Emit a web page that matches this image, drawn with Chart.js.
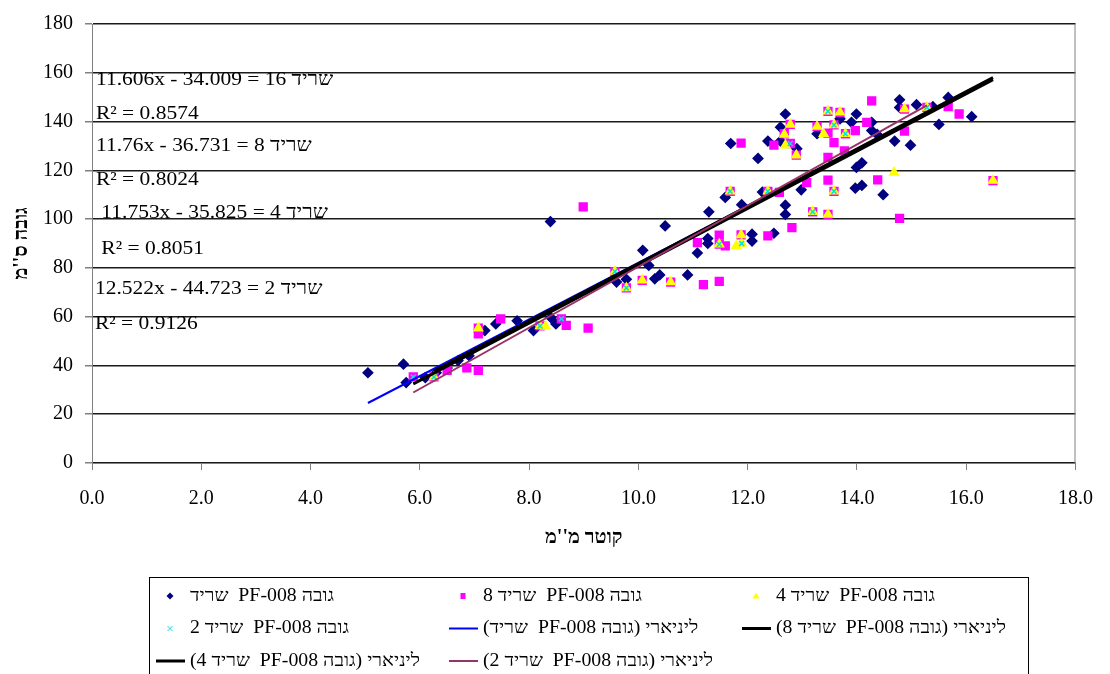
<!DOCTYPE html>
<html>
<head>
<meta charset="utf-8">
<script src="https://cdn.jsdelivr.net/npm/chart.js@4/dist/chart.umd.min.js"></script>
<style>
  html, body { margin: 0; padding: 0; background: #fff; overflow: hidden; }
  #wrap { width: 1110px; height: 674px; position: relative; }
</style>
</head>
<body>
<div id="wrap"><canvas id="myChart"></canvas></div>
<script>
// series labels (legend order)
const seriesLabels = [
    "גובה PF-008  שריד",
    "גובה PF-008  שריד 8",
    "גובה PF-008  שריד 4",
    "גובה PF-008  שריד 2"
];
const trendLabels = [
    "ליניארי (גובה PF-008  שריד)",
    "ליניארי (גובה PF-008  שריד 8)",
    "ליניארי (גובה PF-008  שריד 4)",
    "ליניארי (גובה PF-008  שריד 2)"
];

// שריד (16)
const sharid16X = [5.05, 5.70, 5.75, 6.10, 6.30, 6.50, 6.70, 6.90, 7.19, 7.39, 7.78, 8.08, 8.40, 8.49, 8.39,
    9.60, 9.78, 10.08, 10.19, 10.30, 10.39, 10.49, 10.90, 11.08, 11.27, 11.27, 11.29, 11.59, 11.69, 11.89,
    12.08, 12.08, 12.19, 12.27, 12.37, 12.48, 12.60, 12.60, 12.69, 12.69, 12.69, 12.90, 12.98, 13.27, 13.69,
    13.90, 13.97, 13.99, 13.99, 14.09, 14.09, 14.27, 14.27, 14.37, 14.48, 14.69, 14.78, 14.78, 14.98, 15.09,
    15.39, 15.50, 15.67, 16.10];
const sharid16Y = [37, 40.5, 33, 35, 37, 39, 42, 44, 54.3, 57, 58.3, 54.3, 59.6, 57, 99,
    74.2, 75.3, 87.2, 81, 75.5, 77.1, 97.2, 77.1, 86.1, 92, 90, 103, 108.9, 131, 105.9,
    93.8, 91, 124.9, 111.1, 132, 94.2, 132, 137.7, 143.1, 105.7, 101.9, 128.9, 112, 135, 141.1,
    139.7, 112.7, 143.1, 121.2, 123.1, 113.8, 136.3, 139.7, 134.7, 110, 132, 148.9, 145.8, 130.3, 146.9,
    146.1, 138.8, 149.9, 142];

// שריד 8
const sharid8X = [5.88, 6.26, 6.50, 6.86, 7.07, 7.07, 7.07, 7.48, 8.20, 8.59, 8.68, 8.99, 9.08, 9.57, 9.78,
    10.07, 10.59, 11.08, 11.19, 11.48, 11.48, 11.48, 11.59, 11.68, 11.88, 11.88, 12.37, 12.37, 12.48, 12.58,
    12.67, 12.78, 12.78, 12.81, 12.89, 13.08, 13.19, 13.27, 13.47, 13.47, 13.47, 13.47, 13.47, 13.58, 13.58,
    13.58, 13.69, 13.77, 13.79, 13.97, 14.18, 14.27, 14.38, 14.78, 14.87, 14.87, 15.28, 15.67, 15.87, 16.49];
const sharid8Y = [35.3, 35.3, 38, 39, 38, 55.3, 53, 59.1, 56.2, 59.1, 56.4, 105, 55.3, 78.5, 71.8,
    74.9, 74.2, 90.4, 73.1, 74.5, 93.4, 89.7, 89, 111.4, 131.2, 93.5, 93.1, 111.4, 130.3, 111,
    135, 138.8, 131, 96.5, 126.2, 115, 103, 138, 135.3, 144.2, 125.3, 116, 101.9, 138.6, 131.4,
    111.4, 143.8, 128, 135, 136.3, 139.7, 148.5, 116.1, 100.3, 136.1, 145.1, 145.8, 146.1, 143.1, 115.8];

// שריד 4
const sharid4X = [6.26, 7.07, 8.20, 8.30, 9.57, 9.78, 10.07, 10.59, 11.48, 11.68, 11.79, 11.88, 11.89, 12.37,
    12.67, 12.69, 12.78, 12.89, 13.19, 13.27, 13.39, 13.47, 13.47, 13.58, 13.58, 13.69, 13.79, 14.68, 14.87,
    15.28, 16.49];
const sharid4Y = [35.3, 55.3, 56.2, 56, 78.5, 71.8, 74.9, 74.2, 89.7, 111.4, 89, 93.5, 90, 111.4,
    134.7, 130.3, 138.8, 126.2, 103, 138, 135, 101.9, 144.2, 138.6, 111.4, 143.8, 135, 119.1, 145.1,
    145.8, 115.8];

// שריד 2
const sharid2X = [5.88, 6.26, 8.20, 8.59, 9.57, 9.78, 11.48, 11.68, 11.89, 12.37, 12.78, 13.19, 13.47, 13.58,
    13.58, 13.79, 15.28];
const sharid2Y = [35.3, 35.3, 56.2, 59.1, 78.5, 71.8, 89.7, 111.4, 90, 111.4, 131, 103, 144.2, 111.4,
    138.6, 135, 145.8];

// trendline equations as printed on the chart (16, 8, 4, 2)
const trendSlope = [11.606, 11.76, 11.753, 12.522];
const trendIntercept = [-34.009, -36.731, -35.825, -44.723];
const eqTexts = [
    "11.606x - 34.009 = 16 שריד", "R² = 0.8574",
    "11.76x - 36.731 = 8 שריד", "R² = 0.8024",
    " 11.753x - 35.825 = 4 שריד", " R² = 0.8051",
    "12.522x - 44.723 = 2 שריד", "R² = 0.9126"
];

const serif = "'Liberation Serif', 'Times New Roman', serif";

function toPoints(xs, ys) {
    return xs.map((x, i) => ({ x: x, y: ys[i] }));
}

function trendPoints(xs, k) {
    const lo = Math.min(...xs), hi = Math.max(...xs);
    return [lo, hi].map(x => ({ x: x, y: trendSlope[k] * x + trendIntercept[k] }));
}

const allX = [sharid16X, sharid8X, sharid4X, sharid2X];
const allY = [sharid16Y, sharid8Y, sharid4Y, sharid2Y];

// marker styles
const markerStyle = [
    { pointStyle: 'rectRot', pointRadius: 4.8, backgroundColor: '#000080', borderColor: '#000080' },
    { pointStyle: 'rect', pointRadius: 5.5, backgroundColor: '#FF00FF', borderColor: '#FF00FF' },
    { pointStyle: 'triangle', pointRadius: 5, backgroundColor: '#FFFF00', borderColor: '#FFFF00' },
    { pointStyle: 'crossRot', pointRadius: 3.5, backgroundColor: '#00FFFF', borderColor: '#00E0E0' }
];
const lineStyle = [
    { borderColor: '#0000FF', borderWidth: 2 },
    { borderColor: '#000000', borderWidth: 3 },
    { borderColor: '#000000', borderWidth: 3 },
    { borderColor: '#993366', borderWidth: 2 }
];

let datasets = [];
allX.forEach((xs, k) => {
    datasets.push(Object.assign({
        label: seriesLabels[k],
        data: toPoints(xs, allY[k]),
        showLine: false,
        borderWidth: 1.5,
        order: 20 - k
    }, markerStyle[k]));
});
allX.forEach((xs, k) => {
    datasets.push(Object.assign({
        label: trendLabels[k],
        data: trendPoints(xs, k),
        showLine: true,
        pointRadius: 0,
        fill: false,
        order: 10 - k
    }, lineStyle[k]));
});

// equation labels, left offset in px from plot edge and y in axis units
const eqPlugin = {
    id: 'eqLabels',
    afterDatasetsDraw(chart) {
        const ctx = chart.ctx;
        const yScale = chart.scales.y;
        const yAt = [157, 143, 130, 116, 102.6, 87.6, 71.4, 56.8];
        const xOff = [4, 4, 4, 4, 4, 4, 3, 3];
        ctx.save();
        ctx.font = "19px " + serif;
        ctx.fillStyle = '#000';
        ctx.textBaseline = 'middle';
        ctx.textAlign = 'left';
        eqTexts.forEach((t, i) => {
            ctx.save();
            ctx.translate(chart.chartArea.left + xOff[i], yScale.getPixelForValue(yAt[i]));
            ctx.scale(1.13, 1);  // the original text is a bit stretched
            ctx.fillText(t, 0, 0);
            ctx.restore();
        });
        ctx.restore();
    }
};

// right border of plot area
const borderPlugin = {
    id: 'plotBorder',
    beforeDatasetsDraw(chart) {
        const a = chart.chartArea, ctx = chart.ctx;
        ctx.save();
        ctx.strokeStyle = '#808080';
        ctx.lineWidth = 1;
        ctx.beginPath();
        ctx.moveTo(a.right - 0.5, a.top);
        ctx.lineTo(a.right - 0.5, a.bottom);
        ctx.stroke();
        ctx.restore();
    }
};

function drawMarker(ctx, ds, x, y) {
    ctx.fillStyle = ds.backgroundColor;
    ctx.strokeStyle = ds.borderColor;
    ctx.lineWidth = 1;
    const r = 3.5;
    ctx.beginPath();
    if (ds.pointStyle === 'rectRot') {
        ctx.moveTo(x, y - r); ctx.lineTo(x + r, y); ctx.lineTo(x, y + r); ctx.lineTo(x - r, y); ctx.closePath(); ctx.fill();
    } else if (ds.pointStyle === 'rect') {
        ctx.rect(x - 2.5, y - 3, 5, 6); ctx.fill();
    } else if (ds.pointStyle === 'triangle') {
        ctx.moveTo(x, y - r); ctx.lineTo(x + r, y + r - 1); ctx.lineTo(x - r, y + r - 1); ctx.closePath(); ctx.fill();
    } else {
        ctx.moveTo(x - 2.5, y - 2.5); ctx.lineTo(x + 2.5, y + 2.5);
        ctx.moveTo(x + 2.5, y - 2.5); ctx.lineTo(x - 2.5, y + 2.5); ctx.stroke();
    }
}

// boxed 3-column legend under the chart
const legendPlugin = {
    id: 'boxLegend',
    afterDraw(chart) {
        const ctx = chart.ctx;
        const box = { left: 149, top: 577, width: 879, height: 120 };
        ctx.save();
        ctx.strokeStyle = '#000';
        ctx.lineWidth = 1;
        ctx.strokeRect(box.left + 0.5, box.top + 0.5, box.width, box.height);
        ctx.font = "18px " + serif;
        ctx.textBaseline = 'middle';
        chart.data.datasets.forEach((ds, i) => {
            const col = i % 3, row = Math.floor(i / 3);
            const cx = box.left + 21 + col * 293;
            const cy = box.top + 19 + row * 32.5;
            if (ds.showLine) {
                ctx.strokeStyle = ds.borderColor;
                ctx.lineWidth = ds.borderWidth;
                ctx.beginPath();
                ctx.moveTo(cx - 14, cy);
                ctx.lineTo(cx + 15, cy);
                ctx.stroke();
            } else {
                drawMarker(ctx, ds, cx, cy);
            }
            ctx.save();
            ctx.fillStyle = '#000';
            ctx.direction = 'rtl';
            ctx.textAlign = 'left';
            ctx.translate(cx + 20, cy);
            ctx.scale(1.1, 1);
            ctx.fillText(ds.label, 0, 0);
            ctx.restore();
        });
        ctx.restore();
    }
};

const ctx = document.getElementById('myChart').getContext('2d');
new Chart(ctx, {
    type: 'scatter',
    data: { datasets: datasets },
    plugins: [borderPlugin, eqPlugin, legendPlugin],
    options: {
        responsive: true,
        maintainAspectRatio: false,
        animation: false,
        layout: { padding: { left: 0, top: 19, right: 23, bottom: 116 } },
        plugins: {
            legend: { display: false },
            tooltip: { enabled: false }
        },
        scales: {
            x: {
                type: 'linear',
                min: 0,
                max: 18,
                afterFit: s => { s.height = 95; },
                ticks: {
                    stepSize: 2,
                    padding: 17,
                    color: '#000',
                    font: { family: serif, size: 20 },
                    callback: v => v.toFixed(1)
                },
                grid: { drawOnChartArea: false, tickLength: 7, tickColor: '#808080' },
                border: { color: '#808080', width: 1 },
                title: {
                    display: true,
                    text: "קוטר מ''מ",
                    color: '#000',
                    padding: { top: 0, bottom: 8 },
                    font: { family: serif, size: 20, weight: 'bold' }
                }
            },
            y: {
                min: 0,
                max: 180,
                afterFit: s => { s.width = 92; },
                ticks: {
                    stepSize: 20,
                    padding: 12,
                    color: '#000',
                    font: { family: serif, size: 20 }
                },
                grid: { color: '#1a1a1a', lineWidth: 1.5, tickLength: 7, tickColor: '#808080' },
                border: { color: '#808080', width: 1 },
                title: {
                    display: true,
                    text: "גובה ס''מ",
                    color: '#000',
                    padding: { top: 10, bottom: 0 },
                    font: { family: serif, size: 20, weight: 'bold' }
                }
            }
        }
    }
});
</script>
</body>
</html>
